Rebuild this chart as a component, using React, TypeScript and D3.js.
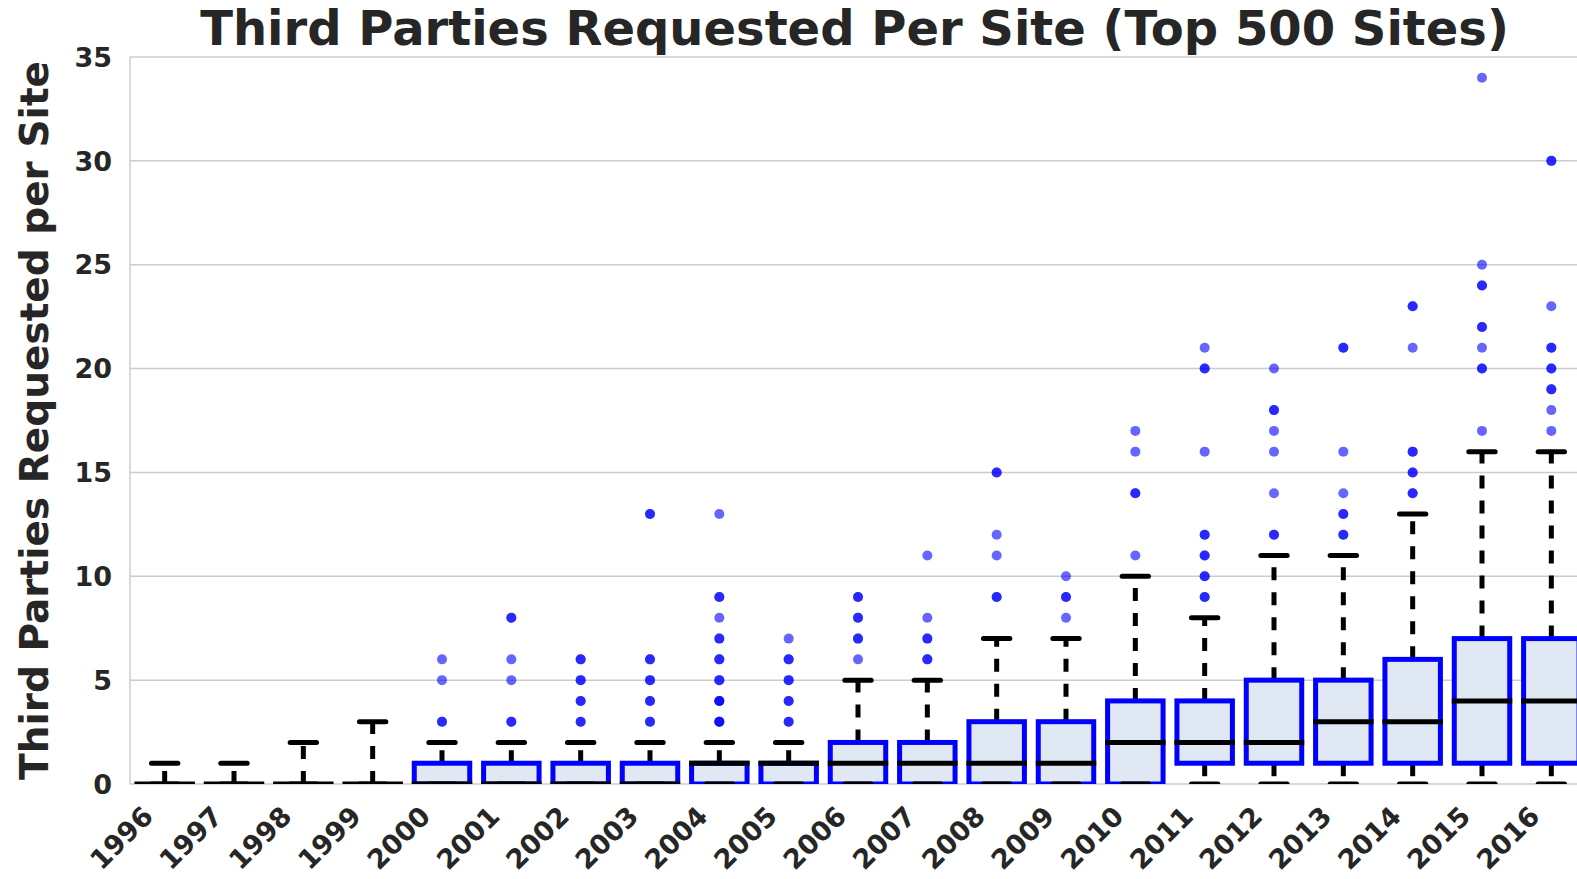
import * as d3 from "d3"

const years = [
  "1996", "1997", "1998", "1999", "2000", "2001", "2002", "2003", "2004", "2005", "2006",
  "2007", "2008", "2009", "2010", "2011", "2012", "2013", "2014", "2015", "2016",
]
const whiskerLow = [0, 0, 0, 0, 0, 0, 0, 0, 0, 0, 0, 0, 0, 0, 0, 0, 0, 0, 0, 0, 0]
const q1 = [0, 0, 0, 0, 0, 0, 0, 0, 0, 0, 0, 0, 0, 0, 0, 1, 1, 1, 1, 1, 1]
const medians = [0, 0, 0, 0, 0, 0, 0, 0, 1, 1, 1, 1, 1, 1, 2, 2, 2, 3, 3, 4, 4]
const q3 = [0, 0, 0, 0, 1, 1, 1, 1, 1, 1, 2, 2, 3, 3, 4, 4, 5, 5, 6, 7, 7]
const whiskerHigh = [1, 1, 2, 3, 2, 2, 2, 2, 2, 2, 5, 5, 7, 7, 10, 8, 11, 11, 13, 16, 16]
// outliers; repeated values overlap and show darker
const fliers = [
  [], [], [], [],
  [3, 3, 5, 6],
  [3, 3, 5, 6, 8, 8],
  [3, 3, 4, 4, 5, 5, 6, 6],
  [3, 3, 4, 4, 5, 5, 6, 6, 13, 13],
  [3, 3, 3, 4, 4, 4, 5, 5, 6, 6, 7, 7, 8, 9, 9, 13],
  [3, 3, 4, 4, 5, 5, 6, 6, 7],
  [6, 7, 7, 8, 8, 9, 9],
  [6, 6, 7, 7, 8, 11],
  [9, 9, 11, 12, 15, 15],
  [8, 9, 9, 10],
  [11, 14, 14, 16, 17],
  [9, 9, 10, 10, 11, 11, 12, 12, 16, 20, 20, 21],
  [12, 12, 14, 16, 17, 18, 18, 20],
  [12, 12, 13, 13, 14, 16, 21, 21],
  [14, 14, 15, 15, 16, 16, 21, 23, 23],
  [17, 20, 20, 21, 22, 22, 24, 24, 25, 34],
  [17, 18, 19, 19, 20, 20, 21, 21, 23, 30, 30],
]
const yTicks = [0, 5, 10, 15, 20, 25, 30, 35]

const width = 1577
const height = 879
const left = 130
const right = 1586
const top = 57
const bottom = 784
const font = "'DejaVu Sans', sans-serif"
const textColor = "#262626"

export default function App() {
  const x = d3.scaleBand().domain(years).range([left, right])
  const y = d3.scaleLinear().domain([0, 35]).range([bottom, top])
  const step = x.step()
  const boxW = step * 0.8
  const capW = step * 0.38

  return (
    <svg
      width={width}
      height={height}
      style={{ position: "absolute", left: 0, top: 0, background: "#fff" }}
      fontFamily={font}
    >
      <defs>
        <clipPath id="plot">
          <rect x={left} y={top} width={right - left} height={bottom - top} />
        </clipPath>
      </defs>

      {yTicks.map((t) => (
        <line key={t} x1={left} x2={right} y1={y(t)} y2={y(t)} stroke="#cccccc" strokeWidth={1.5} />
      ))}
      <line x1={left} x2={left} y1={top} y2={bottom} stroke="#cccccc" strokeWidth={1.5} />

      <g clipPath="url(#plot)">
        {years.map((yr, i) => {
          const cx = x(yr) + step / 2
          return (
            <g key={yr}>
              <line
                x1={cx} x2={cx} y1={y(q3[i])} y2={y(whiskerHigh[i])}
                stroke="#000" strokeWidth={5} strokeDasharray="13 12"
              />
              <line
                x1={cx} x2={cx} y1={y(q1[i])} y2={y(whiskerLow[i])}
                stroke="#000" strokeWidth={5} strokeDasharray="13 12"
              />
              {q3[i] > q1[i] && (
                <rect
                  x={cx - boxW / 2} width={boxW}
                  y={y(q3[i])} height={y(q1[i]) - y(q3[i])}
                  fill="#e0e9f3" stroke="#0000ff" strokeWidth={5}
                />
              )}
              <line
                x1={cx - boxW / 2} x2={cx + boxW / 2} y1={y(medians[i])} y2={y(medians[i])}
                stroke="#000" strokeWidth={5} strokeLinecap="square"
              />
              <line
                x1={cx - capW / 2} x2={cx + capW / 2} y1={y(whiskerHigh[i])} y2={y(whiskerHigh[i])}
                stroke="#000" strokeWidth={5} strokeLinecap="round"
              />
              <line
                x1={cx - capW / 2} x2={cx + capW / 2} y1={y(whiskerLow[i])} y2={y(whiskerLow[i])}
                stroke="#000" strokeWidth={5} strokeLinecap="round"
              />
              {fliers[i].map((v, j) => (
                <circle key={j} cx={cx} cy={y(v)} r={5} fill="#0000ff" fillOpacity={0.6} />
              ))}
            </g>
          )
        })}
      </g>

      {yTicks.map((t) => (
        <text
          key={t} x={112} y={y(t)} dy="0.36em" textAnchor="end"
          fontSize={27} fontWeight="bold" fill={textColor}
        >
          {t}
        </text>
      ))}

      {years.map((yr) => {
        const px = x(yr) + step / 2 - 10
        const py = 818
        return (
          <text
            key={yr} transform={`translate(${px},${py}) rotate(-45)`} textAnchor="end"
            fontSize={27} fontWeight="bold" fill={textColor}
          >
            {yr}
          </text>
        )
      })}

      <text
        transform={`translate(48,${(top + bottom) / 2}) rotate(-90)`} textAnchor="middle"
        fontSize={39} fontWeight="bold" fill={textColor}
      >
        Third Parties Requested per Site
      </text>

      <text
        x={(left + 1579) / 2} y={45} textAnchor="middle"
        fontSize={48} fontWeight="bold" fill={textColor}
      >
        Third Parties Requested Per Site (Top 500 Sites)
      </text>
    </svg>
  )
}
